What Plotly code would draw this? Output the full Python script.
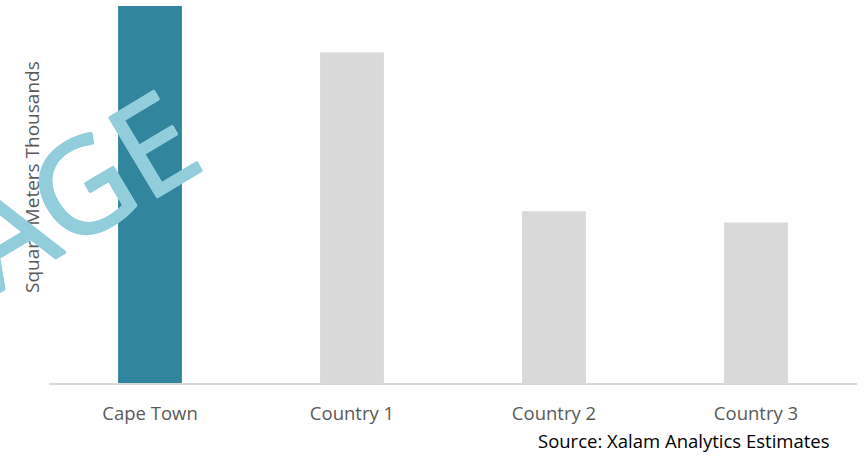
import plotly.graph_objects as go

# Floor space by market (thousands of square meters)
categories = ["Cape Town", "Country 1", "Country 2", "Country 3"]
values = [235, 206, 107, 100]
bar_colors = ["#31859C", "#D9D9D9", "#D9D9D9", "#D9D9D9"]

axis_title = "Square Meters Thousands"
source_note = "Source: Xalam Analytics Estimates"
watermark = "AGE"

W, H = 866, 461
M_L, M_R, M_T, M_B = 49, 9, 6, 78
plot_w = W - M_L - M_R
plot_h = H - M_T - M_B


def px_to_paper(px, py):
    return (px - M_L) / plot_w, (H - M_B - py) / plot_h


fig = go.Figure(
    go.Bar(
        x=categories,
        y=values,
        marker=dict(color=bar_colors, line=dict(width=0)),
        width=0.316,
        hoverinfo="x+y",
    )
)

font_family = "Open Sans, sans-serif"
wm_color = "#92CDDC"
# thicken the watermark strokes a little with a solid text shadow ring
wm_shadow = ", ".join(
    f"{dx}px {dy}px 0 {wm_color}"
    for dx, dy in [(1, 0), (-1, 0), (0, 1), (0, -1), (1, 1), (-1, -1), (1, -1), (-1, 1)]
)

tx, ty = px_to_paper(32, 177)
sx, sy = px_to_paper(832, 441)
wx, wy = px_to_paper(75, 187)

fig.update_layout(
    width=W,
    height=H,
    margin=dict(l=M_L, r=M_R, t=M_T, b=M_B),
    paper_bgcolor="white",
    plot_bgcolor="white",
    showlegend=False,
    font=dict(family=font_family, color="#595959", size=18),
    xaxis=dict(
        showline=True,
        linecolor="#D9D9D9",
        linewidth=1.5,
        showgrid=False,
        ticks="",
        tickfont=dict(size=18.5, color="#595959"),
        ticklabelstandoff=13,
        fixedrange=True,
    ),
    yaxis=dict(
        range=[0, 235],
        showgrid=False,
        showticklabels=False,
        zeroline=False,
        showline=False,
        fixedrange=True,
    ),
    annotations=[
        dict(
            text=axis_title,
            xref="paper", yref="paper",
            x=tx, y=ty,
            xanchor="center", yanchor="middle",
            textangle=-90,
            showarrow=False,
            font=dict(size=19, color="#595959", family=font_family),
        ),
        dict(
            text=source_note,
            xref="paper", yref="paper",
            x=sx, y=sy,
            xanchor="right", yanchor="middle",
            showarrow=False,
            font=dict(size=18.5, color="#000000", family=font_family),
        ),
        dict(
            text=watermark,
            xref="paper", yref="paper",
            x=wx, y=wy,
            xanchor="center", yanchor="middle",
            textangle=-31,
            showarrow=False,
            font=dict(size=130, color=wm_color, family=font_family,
                      shadow=wm_shadow),
        ),
    ],
)

fig.write_html("out.html")
